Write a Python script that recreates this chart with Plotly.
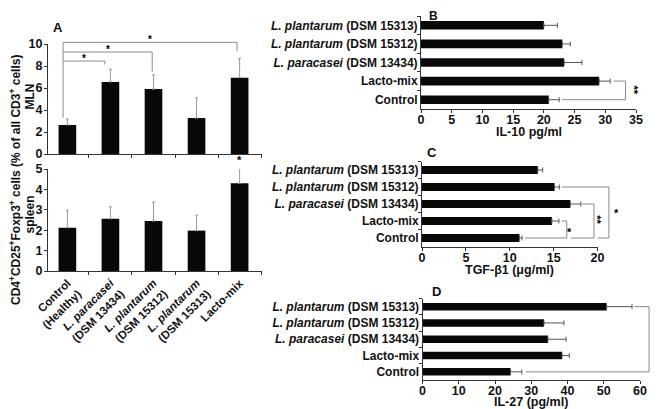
import plotly.graph_objects as go

# the page body adds an 8 px margin, so the figure is drawn 8 px in from the window corner
WIN_W, WIN_H, OFF = 662, 409, 8
W, H = WIN_W - OFF, WIN_H - OFF

# ---------------- data ----------------
A_groups = ["Control<br>(Healthy)", "<i>L. paracasei</i><br>(DSM 13434)",
            "<i>L. plantarum</i><br>(DSM 15312)", "<i>L. plantarum</i><br>(DSM 15313)",
            "Lacto-mix"]
A_mln = [2.64, 6.55, 5.9, 3.27, 6.94]
A_mln_err = [0.55, 1.15, 1.3, 1.83, 1.76]
A_spleen = [2.12, 2.56, 2.45, 1.98, 4.3]
A_spleen_err = [0.87, 0.59, 0.92, 0.76, 0.73]
A_mln_ticks = [0, 2, 4, 6, 8, 10]
A_spleen_ticks = [0, 1, 2, 3, 4, 5]

strains = ["<i>L. plantarum</i> (DSM 15313)", "<i>L. plantarum</i> (DSM 15312)",
           "<i>L. paracasei</i> (DSM 13434)", "Lacto-mix", "Control"]
B_il10 = [20.0, 23.0, 23.3, 29.0, 20.8]
B_err = [2.2, 1.3, 2.9, 1.8, 1.7]
B_ticks = [0, 5, 10, 15, 20, 25, 30, 35]
C_tgf = [13.2, 15.1, 16.9, 14.8, 11.1]
C_err = [0.55, 0.55, 1.2, 0.8, 0.3]
C_ticks = [0, 5, 10, 15, 20]
D_il27 = [50.8, 33.5, 34.6, 38.5, 24.3]
D_err = [7.0, 5.5, 5.0, 2.0, 3.1]
D_ticks = [0, 10, 20, 30, 40, 50, 60]

# significance brackets (data coordinates)
# A: (left category, right category, line height, right drop-to, stars)
A_brackets = [(-0.1, 0.87, 8.45, 8.15, "*"),
              (-0.1, 1.97, 9.27, 7.5, "*"),
              (-0.1, 3.94, 10.15, 9.35, "*")]
A_left_bottom = 3.3
# horizontal: (row top, row bottom, x start top, x start bottom, x right, label, label x, label y, rotated)
B_brackets = [(3, 4, 31.4, 22.9, 33.3, "**", 34.6, 3.48, True)]
C_brackets = [(3, 4, 15.9, 11.7, 16.5, "*", 16.85, 3.62, False),
              (2, 4, 18.2, 16.95, 19.6, "**", 19.95, 2.9, True),
              (1, 4, 15.9, 20.0, 21.3, "*", 22.2, 2.5, False)]
D_brackets = [(0, 4, 58.3, 28.5, 62.5, "*", 64.5, 2.05, False)]

FONT = "Liberation Sans, Arial, sans-serif"
BAR = "#080808"
GRAY = "#8a8a8a"


def px(x):
    return (x - OFF) / W


def py(y):
    return 1 - (y - OFF) / H


# subplot geometry (domains / ranges), given in window pixels
A_xdom = [px(48), px(262)]
A_xrng = [-0.45, 4.52]
A_mln_ydom = [py(154), py(44)]
A_sp_ydom = [py(271), py(169)]
B_xdom, B_ydom = [px(421), px(636)], [py(109), py(16)]
C_xdom, C_ydom = [px(422), px(597.5)], [py(246.5), py(161.5)]
D_xdom, D_ydom = [px(422.5), px(640)], [py(380), py(298.5)]
CAT_RNG_REV = [4.5, -0.5]


def to_paper(dom, rng, v):
    return dom[0] + (v - rng[0]) / (rng[1] - rng[0]) * (dom[1] - dom[0])


fig = go.Figure()

# ---- Panel A bars ----
fig.add_trace(go.Bar(x=A_groups, y=A_mln, width=0.41, marker=dict(color=BAR, line=dict(width=0)),
                     error_y=dict(type="data", array=A_mln_err, arrayminus=[0] * 5, symmetric=False,
                                  color="#9a9a9a", thickness=1, width=1.5),
                     xaxis="x", yaxis="y", showlegend=False))
fig.add_trace(go.Bar(x=A_groups, y=A_spleen, width=0.41, marker=dict(color=BAR, line=dict(width=0)),
                     error_y=dict(type="data", array=A_spleen_err, arrayminus=[0] * 5, symmetric=False,
                                  color="#9a9a9a", thickness=1, width=1.5),
                     xaxis="x2", yaxis="y2", showlegend=False))

# ---- Panels B, C, D ----
for vals, errs, xa, ya in [(B_il10, B_err, "x3", "y3"), (C_tgf, C_err, "x4", "y4"), (D_il27, D_err, "x5", "y5")]:
    fig.add_trace(go.Bar(y=strains, x=vals, orientation="h", width=0.46,
                         marker=dict(color=BAR, line=dict(width=0)),
                         error_x=dict(type="data", array=errs, arrayminus=[0] * 5, symmetric=False,
                                      color="#555555", thickness=1, width=2.5),
                         xaxis=xa, yaxis=ya, showlegend=False))

tickfont = dict(family=FONT, size=12.5, color="#111", weight="bold")
catfont = dict(family=FONT, size=12, color="#111", weight="bold")
axline = dict(showline=True, linecolor="#333", linewidth=1, ticks="outside", ticklen=3,
              tickcolor="#333", showgrid=False, zeroline=False, automargin=False)
hx = dict(tickfont=tickfont, ticklabelstandoff=-4, **axline)
vy = dict(tickfont=tickfont, ticklabelstandoff=-1, **axline)

layout = dict(
    template="none",
    width=W, height=H, margin=dict(l=0, r=0, t=0, b=0, autoexpand=False),
    paper_bgcolor="white", plot_bgcolor="white", bargap=0.5, showlegend=False,
    xaxis=dict(domain=A_xdom, range=A_xrng, anchor="y", type="category", tickson="boundaries",
               showticklabels=False, **axline),
    yaxis=dict(domain=A_mln_ydom, range=[0, 10], anchor="x", tickvals=A_mln_ticks, **vy),
    xaxis2=dict(domain=A_xdom, range=A_xrng, anchor="y2", type="category", tickson="boundaries",
                tickangle=-45, tickfont=dict(family=FONT, size=11.5, color="#111", weight="bold"),
                **axline),
    yaxis2=dict(domain=A_sp_ydom, range=[0, 5], anchor="x2", tickvals=A_spleen_ticks, **vy),
    xaxis3=dict(domain=B_xdom, range=[0, 35], anchor="y3", tickvals=B_ticks, **hx),
    yaxis3=dict(domain=B_ydom, range=CAT_RNG_REV, anchor="x3", type="category", tickson="boundaries",
                tickfont=catfont, **axline),
    xaxis4=dict(domain=C_xdom, range=[0, 20], anchor="y4", tickvals=C_ticks, **hx),
    yaxis4=dict(domain=C_ydom, range=CAT_RNG_REV, anchor="x4", type="category", tickson="boundaries",
                tickfont=catfont, **axline),
    xaxis5=dict(domain=D_xdom, range=[0, 60], anchor="y5", tickvals=D_ticks, **hx),
    yaxis5=dict(domain=D_ydom, range=CAT_RNG_REV, anchor="x5", type="category", tickson="boundaries",
                tickfont=catfont, **axline),
)
fig.update_layout(**layout)

shapes = []
annotations = []


def line(x0, y0, x1, y1):
    shapes.append(dict(type="line", xref="paper", yref="paper", x0=x0, y0=y0, x1=x1, y1=y1,
                       line=dict(color=GRAY, width=1)))


def text(x, y, s, size=12, angle=0, color="#111", xanchor="center", yanchor="middle"):
    annotations.append(dict(xref="paper", yref="paper", x=x, y=y, text=s, showarrow=False,
                            textangle=angle, xanchor=xanchor, yanchor=yanchor,
                            font=dict(family=FONT, size=size, color=color)))


# ---- A brackets ----
ax = lambda c: to_paper(A_xdom, A_xrng, c)
ay = lambda v: to_paper(A_mln_ydom, [0, 10], v)
top = max(b[2] for b in A_brackets)
line(ax(A_brackets[0][0]), ay(top), ax(A_brackets[0][0]), ay(A_left_bottom))
for c0, c1, h, drop, s in A_brackets:
    line(ax(c0), ay(h), ax(c1), ay(h))
    line(ax(c1), ay(h), ax(c1), ay(drop))
    text(ax((c0 + c1) / 2), ay(h) - 0.012, "<b>" + s + "</b>", size=10, yanchor="bottom", color="#000")
# spleen star above Lacto-mix
text(ax(4), to_paper(A_sp_ydom, [0, 5], A_spleen[4] + A_spleen_err[4]), "<b>*</b>", size=11,
     yanchor="bottom", color="#000")

# ---- horizontal brackets ----
for brs, xdom, xrng, ydom in [(B_brackets, B_xdom, [0, 35], B_ydom),
                              (C_brackets, C_xdom, [0, 20], C_ydom),
                              (D_brackets, D_xdom, [0, 60], D_ydom)]:
    for r0, r1, xs0, xs1, xr, s, lx, ly, rot in brs:
        X = lambda v: to_paper(xdom, xrng, v)
        Y = lambda r: to_paper(ydom, CAT_RNG_REV, r)
        line(X(xs0), Y(r0), X(xr), Y(r0))
        line(X(xr), Y(r0), X(xr), Y(r1))
        line(X(xs1), Y(r1), X(xr), Y(r1))
        text(X(lx), Y(ly), "<b>" + s + "</b>", size=11, angle=90 if rot else 0, color="#000")

# ---- titles / panel letters ----
b = lambda s: "<b>" + s + "</b>"
text(px(58), py(27), b("A"), size=13)
text(px(433), py(15.5), b("B"), size=12)
text(px(432), py(152), b("C"), size=13)
text(px(436), py(291), b("D"), size=13)
text(px(15), py(180), b("CD4<sup>+</sup>CD25<sup>+</sup>Foxp3<sup>+</sup> cells (% of all CD3<sup>+</sup> cells)"),
     size=12, angle=-90)
text(px(29.5), py(97), b("MLN"), size=12, angle=-90)
text(px(29.5), py(215), b("spleen"), size=12, angle=-90)
text((B_xdom[0] + B_xdom[1]) / 2, py(132), b("IL-10 pg/ml"), size=12.5)
text((C_xdom[0] + C_xdom[1]) / 2, py(270), b("TGF-β1 (μg/ml)"), size=12.5)
text((D_xdom[0] + D_xdom[1]) / 2, py(401.5), b("IL-27 (pg/ml)"), size=12.5)

fig.update_layout(shapes=shapes, annotations=annotations)
fig.write_html("out.html")
